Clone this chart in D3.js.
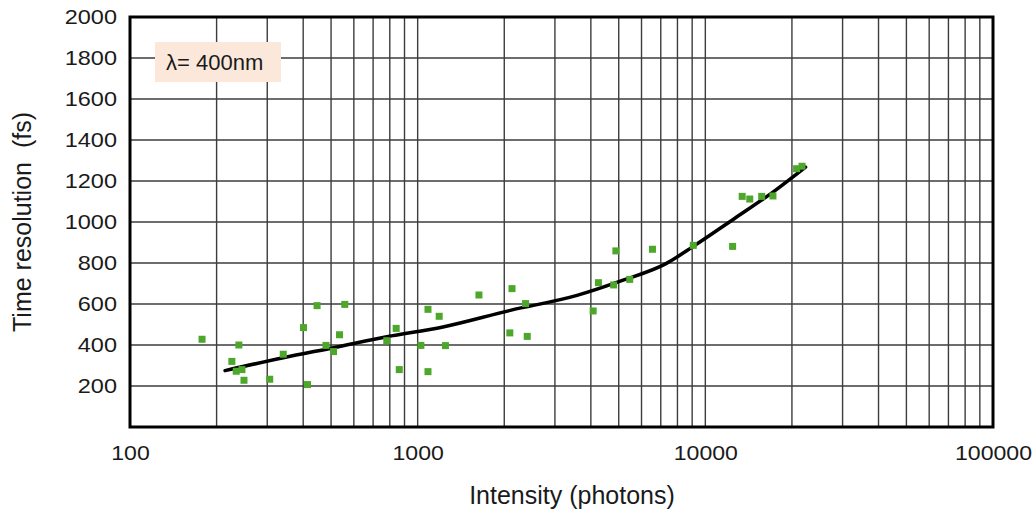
<!DOCTYPE html>
<html><head><meta charset="utf-8">
<script src="https://cdn.jsdelivr.net/npm/d3@7"></script>
<style>body{margin:0;background:#fff}svg{display:block}</style>
</head><body>
<svg id="c" width="1034" height="515"></svg>
<script>
const xTicks = [100, 1000, 10000, 100000];
const yTicks = [200, 400, 600, 800, 1000, 1200, 1400, 1600, 1800, 2000];
const pointX = [178,226,239,234,245,249,306,341,401,414,447,480,510,535,558,781,842,863,1026,1086,1086,1188,1249,1633,2091,2128,2372,2404,4074,4250,4800,4887,5460,6550,9080,12440,13430,14270,15700,17180,20760,21680];
const pointY = [428,320,400,272,280,228,233,355,485,207,592,398,368,450,598,421,481,280,398,574,270,540,397,644,459,675,602,442,566,704,693,859,720,867,886,881,1125,1112,1125,1127,1260,1272];
const fitX = [214,341,510,781,1224,2100,3580,5150,7300,9080,12600,17180,22300];
const fitY = [275,338,387,440,488,569,642,715,797,881,1016,1146,1268];
const annotation = "λ= 400nm";

const svg = d3.select("#c");
const L = 130, R = 993, T = 17, B = 427;
const x = d3.scaleLog().domain([100, 100000]).range([L, R]);
const y = d3.scaleLinear().domain([0, 2000]).range([B, T]);
const font = "'Liberation Sans', Arial, sans-serif";
const ink = "#1a1a1a";

// grid
const vgrid = [];
for (let d = 100; d < 100000; d *= 10) for (let k = 1; k < 10; k++) vgrid.push(d * k);
svg.append("g").selectAll("line").data(vgrid.filter(v => v > 100)).join("line")
  .attr("x1", d => x(d)).attr("x2", d => x(d)).attr("y1", T).attr("y2", B)
  .attr("stroke", "#3c3c3c").attr("stroke-width", 1.4);
svg.append("g").selectAll("line").data(yTicks.slice(0, -1)).join("line")
  .attr("x1", L).attr("x2", R).attr("y1", d => y(d)).attr("y2", d => y(d))
  .attr("stroke", "#3c3c3c").attr("stroke-width", 1.4);

// annotation box
svg.append("rect").attr("x", 155).attr("y", 42).attr("width", 126).attr("height", 40).attr("fill", "#fce8da");
svg.append("text").attr("x", 166).attr("y", 70).attr("font-family", font).attr("font-size", 22)
  .attr("fill", ink).text(annotation);

// fit line
svg.append("path").datum(fitX.map((v, i) => [v, fitY[i]]))
  .attr("d", d3.line().x(d => x(d[0])).y(d => y(d[1])).curve(d3.curveMonotoneX))
  .attr("fill", "none").attr("stroke", "#000").attr("stroke-width", 3.5).attr("stroke-linecap", "round");

// points
const s = 7;
svg.append("g").selectAll("rect").data(pointX.map((v, i) => [v, pointY[i]])).join("rect")
  .attr("x", d => x(d[0]) - s / 2).attr("y", d => y(d[1]) - s / 2).attr("width", s).attr("height", s)
  .attr("fill", "#4da72b");

// border
svg.append("rect").attr("x", L).attr("y", T).attr("width", R - L).attr("height", B - T)
  .attr("fill", "none").attr("stroke", "#000").attr("stroke-width", 3);

// axes
const yAxis = svg.append("g").attr("transform", `translate(${L},0)`)
  .call(d3.axisLeft(y).tickValues(yTicks).tickSize(0).tickPadding(0).tickFormat(d3.format("d")));
yAxis.select(".domain").remove();
yAxis.selectAll("text").attr("font-family", font).attr("font-size", 21).attr("fill", ink)
  .attr("x", 0).attr("transform", "translate(-13,0) scale(1.12,1)");

const xAxis = svg.append("g").attr("transform", `translate(0,${B})`)
  .call(d3.axisBottom(x).tickValues(xTicks).tickSize(0).tickPadding(0).tickFormat(d3.format("d")));
xAxis.select(".domain").remove();
xAxis.selectAll("text").attr("font-family", font).attr("font-size", 21).attr("fill", ink)
  .attr("y", 0).attr("dy", 0).attr("transform", "translate(0,33) scale(1.1,1)");

svg.append("text").attr("x", 572).attr("y", 504).attr("text-anchor", "middle")
  .attr("font-family", font).attr("font-size", 25).attr("fill", ink).text("Intensity (photons)");
svg.append("text").attr("transform", "translate(31,222) rotate(-90)").attr("text-anchor", "middle")
  .attr("font-family", font).attr("font-size", 25).attr("fill", ink).attr("xml:space", "preserve")
  .text("Time resolution  (fs)");
</script>
</body></html>
